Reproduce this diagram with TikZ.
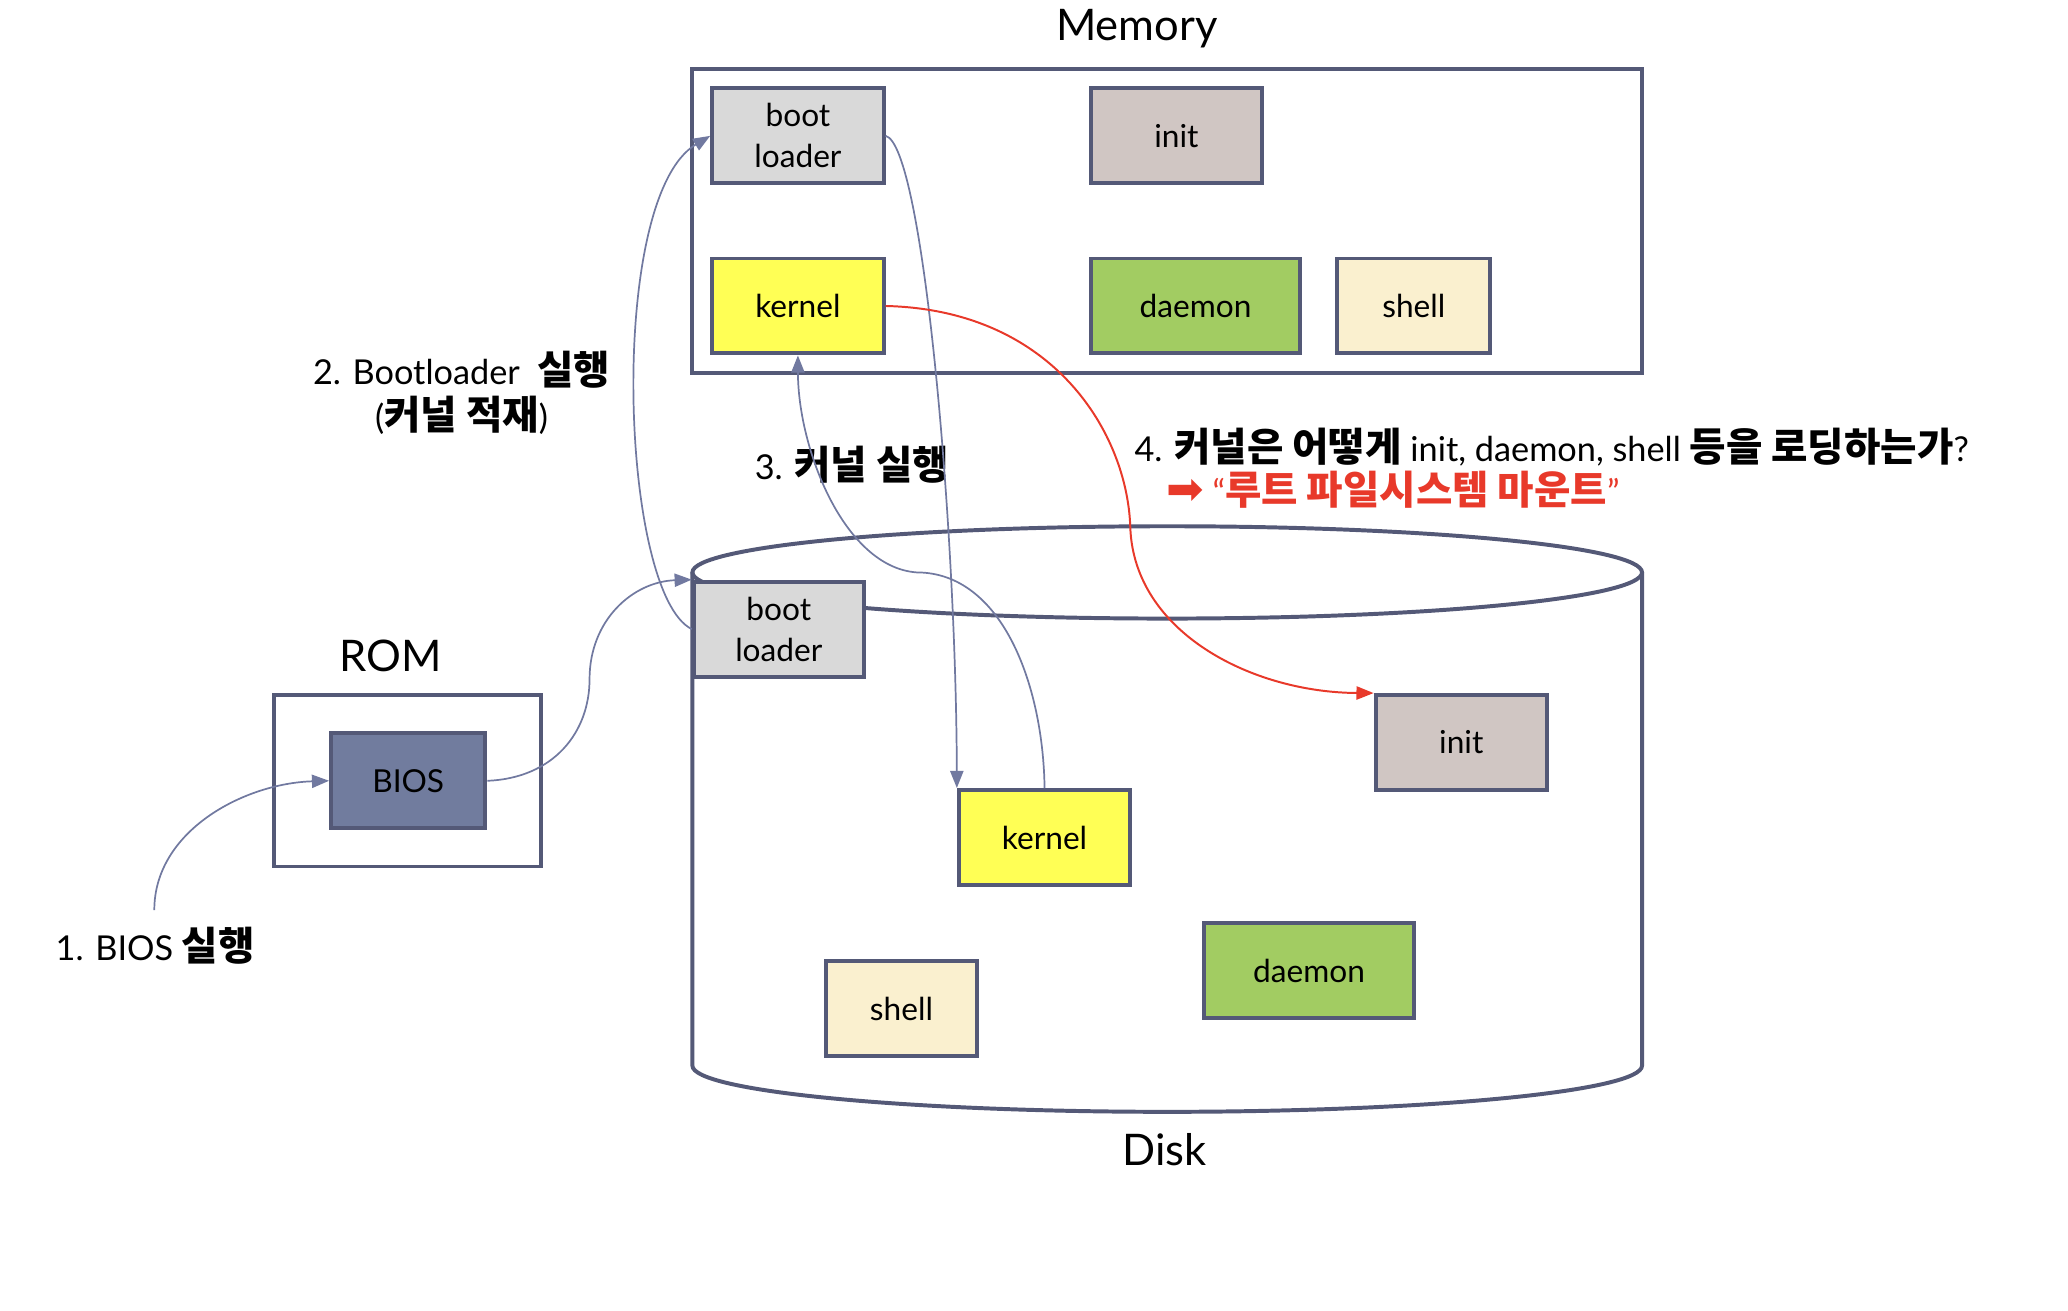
\documentclass[tikz,border=0pt]{standalone}
\usepackage{fontspec}
\setmainfont{Lato}
\newfontfamily\kr{Noto Sans CJK KR}
\newfontfamily\dv{DejaVu Sans}
\usetikzlibrary{arrows.meta}
\definecolor{edge}{HTML}{545977}
\definecolor{arr}{HTML}{7179A0}
\definecolor{redc}{HTML}{E8392A}
\definecolor{fgray}{HTML}{D9D9D9}
\definecolor{finit}{HTML}{D0C6C3}
\definecolor{fyel}{HTML}{FFFF55}
\definecolor{fgreen}{HTML}{A2CC62}
\definecolor{fcream}{HTML}{FAF0CF}
\definecolor{fbios}{HTML}{717C9E}
\newcommand{\K}[1]{{\kr\bfseries\fontsize{30}{34}\selectfont #1}}
\begin{document}
\begin{tikzpicture}[x=1pt,y=-1pt,
 box/.style={draw=edge,line width=3pt,inner sep=0pt,font=\fontsize{24}{31}\selectfont,align=center,minimum height=72pt},
 cont/.style={draw=edge,line width=3pt,inner sep=0pt},
 title/.style={font=\fontsize{33}{40}\selectfont,inner sep=0pt},
 lab/.style={font=\fontsize{26}{34}\selectfont,inner sep=0pt,align=center},
 flow/.style={arr,line width=1.3pt,-{Triangle[length=13pt,width=10pt]}},
 redflow/.style={redc,line width=1.5pt,-{Triangle[length=13pt,width=10pt]}}]
\useasboundingbox (0,0) rectangle (1568,993.3);

% containers
\node[cont,minimum width=720pt,minimum height=231pt] (mem) at (885,167.5) {};
\node[cont,minimum width=202pt,minimum height=130pt] (rom) at (309,592) {};
\draw[edge,line width=3pt,fill=white] (525,434) -- (525,808)
  .. controls (525,827.3) and (686.2,843) .. (885,843)
  .. controls (1083.8,843) and (1245,827.3) .. (1245,808) -- (1245,434);
\draw[edge,line width=3pt] (885,434) ellipse [x radius=360pt,y radius=35pt];

% titles
\node[title] (tmem) at (862,22) {Memory};
\node[title] (trom) at (296,497) {ROM};
\node[title] (tdisk) at (883,872) {Disk};

% memory boxes
\node[box,fill=fgray,minimum width=130pt] (mbl) at (605,103) {boot\\loader};
\node[box,fill=finit,minimum width=130pt] (minit) at (892,103) {init};
\node[box,fill=fyel,minimum width=130pt] (mkern) at (605,232) {kernel};
\node[box,fill=fgreen,minimum width=159pt] (mdae) at (906.5,232) {daemon};
\node[box,fill=fcream,minimum width=116pt] (mshell) at (1072,232) {shell};

% ROM box
\node[box,fill=fbios,minimum width=117pt] (bios) at (309.5,592) {BIOS};

% disk boxes
\node[box,fill=fgray,minimum width=129pt] (dbl) at (590.5,477) {boot\\loader};
\node[box,fill=finit,minimum width=130pt] (dinit) at (1108,563) {init};
\node[box,fill=fyel,minimum width=130pt] (dkern) at (792,635) {kernel};
\node[box,fill=fgreen,minimum width=159pt] (ddae) at (992.5,736) {daemon};
\node[box,fill=fcream,minimum width=115pt] (dshell) at (683.5,765) {shell};

% labels
\node[lab,anchor=west] (l1) at (42,717) {1. BIOS \K{실행}};
\node[lab] (l2) at (350,298) {2. Bootloader\ \ \K{실행}\\(\K{커널 적재})};
\node[lab] (l3) at (646,352) {3. \K{커널 실행}};
\node[lab,anchor=west] (l4) at (860,339) {4. \K{커널은 어떻게} init, daemon, shell \K{등을 로딩하는가}?};
\node[lab,anchor=west,text=redc] (l5) at (884,371) {{\dv\fontsize{34}{34}\selectfont ➡} “\K{루트 파일시스템 마운트}”};

% connectors
\coordinate (s1) at (117,690);
\draw[flow] (s1) .. controls (117,630) and (185,594) .. (bios.west);
\draw[flow] (bios.east) .. controls (420,590) and (447,555) .. (447,515)
  .. controls (447,470) and (480,441) .. (dbl.north west);
\draw[flow] (dbl.west) .. controls (470,450) and (460,150) .. (mbl.west);
\draw[flow] (mbl.east) .. controls (700,110) and (725,400) .. (dkern.north west);
\draw[flow] (dkern.north) .. controls (791,520) and (760,434) .. (695,434)
  .. controls (640,430) and (605,340) .. (mkern.south);
\draw[redflow] (mkern.east) .. controls (800,235) and (855,330) .. (857,400)
  .. controls (860,480) and (950,525) .. (dinit.north west);
\end{tikzpicture}
\end{document}
